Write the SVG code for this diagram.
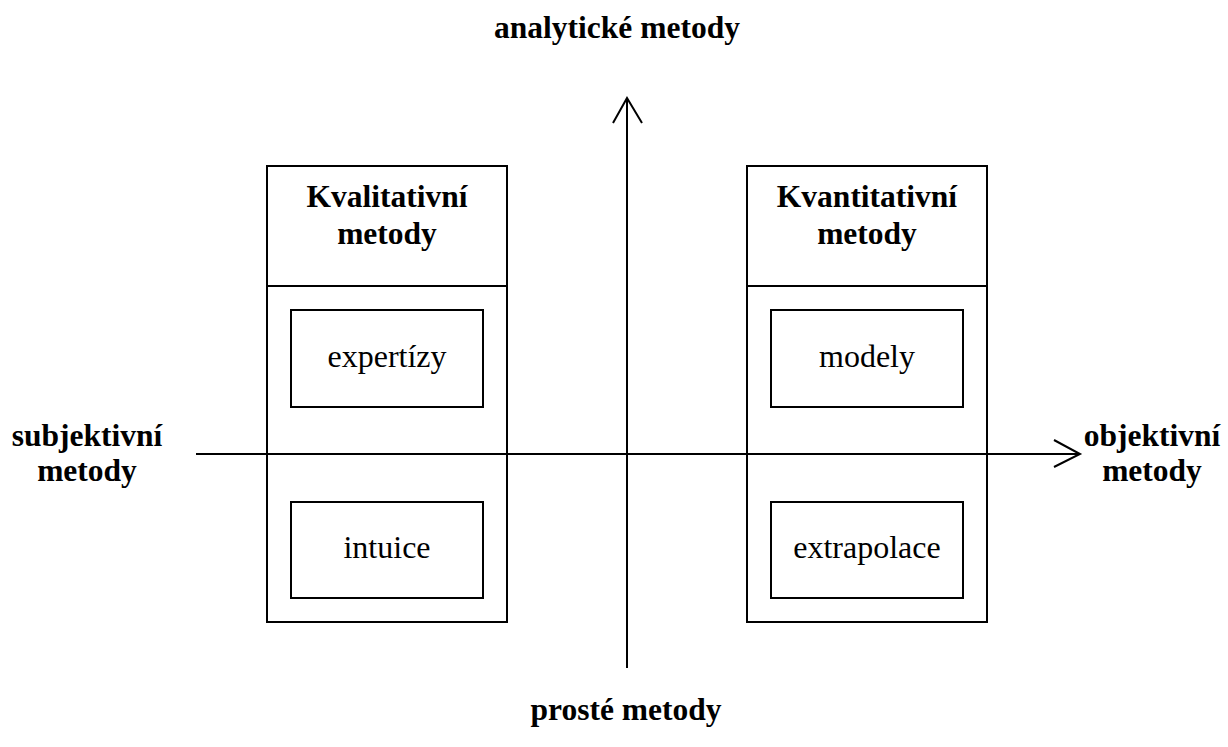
<svg xmlns="http://www.w3.org/2000/svg" width="1228" height="747" viewBox="0 0 1228 747">
<style>
.box{fill:none;stroke:#000;stroke-width:2}
.ax{stroke:#000;stroke-width:2;fill:none}
.b{font-family:"Liberation Serif",serif;font-weight:bold;font-size:31.5px;text-anchor:middle;fill:#000}
.r{font-family:"Liberation Serif",serif;font-size:32px;text-anchor:middle;fill:#000}
</style>
<rect width="1228" height="747" fill="#fff"/>
<g id="connectors">
<line class="ax" x1="196" y1="454" x2="1080" y2="454"/>
<polyline class="ax" points="1054,440 1080,454 1054,467"/>
<line class="ax" x1="627" y1="668" x2="627" y2="98"/>
<polyline class="ax" points="613,123 627,98 642,123"/>
</g>
<g id="qual">
<rect class="box" x="267" y="166" width="240" height="456"/>
<line class="box" x1="267" y1="286" x2="507" y2="286"/>
<text class="b" x="387" y="207">Kvalitativní</text>
<text class="b" x="387" y="244">metody</text>
</g>
<g id="expertizy">
<rect class="box" x="291" y="310" width="192" height="97"/>
<text class="r" x="387" y="367">expertízy</text>
</g>
<g id="intuice">
<rect class="box" x="291" y="502" width="192" height="96"/>
<text class="r" x="387" y="558">intuice</text>
</g>
<g id="quant">
<rect class="box" x="747" y="166" width="240" height="456"/>
<line class="box" x1="747" y1="286" x2="987" y2="286"/>
<text class="b" x="867" y="207">Kvantitativní</text>
<text class="b" x="867" y="244">metody</text>
</g>
<g id="modely">
<rect class="box" x="771" y="310" width="192" height="97"/>
<text class="r" x="867" y="367">modely</text>
</g>
<g id="extrapolace">
<rect class="box" x="771" y="502" width="192" height="96"/>
<text class="r" x="867" y="558">extrapolace</text>
</g>
<g id="labels">
<text class="b" x="617" y="38">analytické metody</text>
<text class="b" x="626" y="720">prosté metody</text>
<text class="b" x="87" y="446">subjektivní</text>
<text class="b" x="87" y="481">metody</text>
<text class="b" x="1152" y="446">objektivní</text>
<text class="b" x="1152" y="481">metody</text>
</g>
</svg>
